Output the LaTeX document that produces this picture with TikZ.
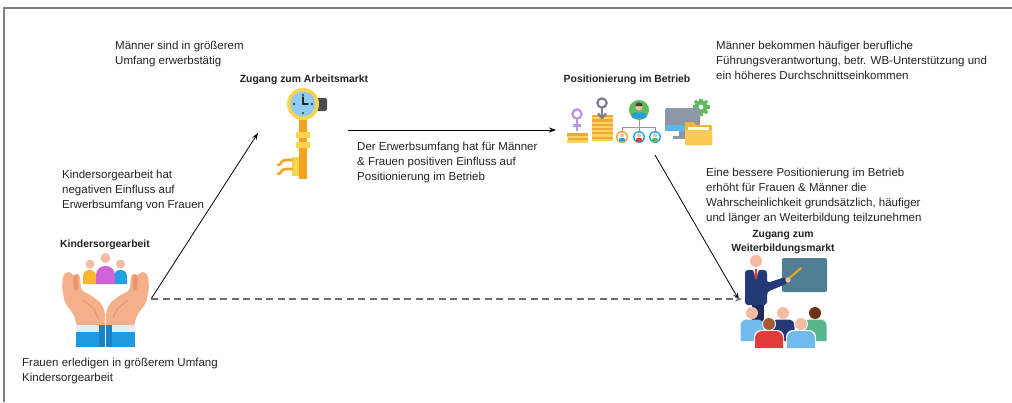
\documentclass[tikz,border=0pt]{standalone}
\usepackage{fontspec}
\setmainfont{Liberation Sans}
\usetikzlibrary{arrows.meta}

\definecolor{txt}{HTML}{222222}
\definecolor{frame}{HTML}{808080}
\definecolor{skin}{HTML}{F4B08A}
\definecolor{skinD}{HTML}{E8956C}
\definecolor{face}{HTML}{F4BCA3}
\definecolor{cuff}{HTML}{1E9BE0}
\definecolor{cuffD}{HTML}{1683CA}
\definecolor{cuffW}{HTML}{E4ECF4}
\definecolor{porange}{HTML}{FDB432}
\definecolor{ppurple}{HTML}{CF62D6}
\definecolor{pblue}{HTML}{1FA2E2}
\definecolor{keyY}{HTML}{FAD24B}
\definecolor{keyO}{HTML}{F6A21F}
\definecolor{dial}{HTML}{8FCBF5}
\definecolor{lav}{HTML}{B995E2}
\definecolor{mars}{HTML}{7E7E90}
\definecolor{coin}{HTML}{FAD35A}
\definecolor{coinD}{HTML}{F2A93B}
\definecolor{gleaf}{HTML}{5DBB5A}
\definecolor{monitor}{HTML}{8C98A3}
\definecolor{screenB}{HTML}{5DB6EA}
\definecolor{folder}{HTML}{F9CB55}
\definecolor{folderD}{HTML}{F3B43A}
\definecolor{board}{HTML}{4F7E93}
\definecolor{suit}{HTML}{243A78}
\definecolor{suitD}{HTML}{1C2A5A}
\definecolor{sblue}{HTML}{72B9EC}
\definecolor{sgreen}{HTML}{58B68C}
\definecolor{sred}{HTML}{E23B3B}
\definecolor{brownH}{HTML}{A85A34}
\definecolor{darkH}{HTML}{6A3217}
\definecolor{linkgray}{HTML}{6E6E6E}

\begin{document}
\begin{tikzpicture}[x=1pt,y=-1pt,
  note/.style={anchor=base west, align=left, inner sep=0pt,
    font=\fontsize{11.5}{15}\selectfont, text=txt},
  title/.style={anchor=base, align=center, inner sep=0pt,
    font=\bfseries\fontsize{10.4}{13.8}\selectfont, text=txt},
  link/.style={-{Stealth[length=7pt,width=5pt]}, line width=0.8pt, draw=black},
  dashlink/.style={-{Stealth[length=7pt,width=5pt]}, line width=1.5pt,
    draw=linkgray, dash pattern=on 7pt off 4.5pt}]
\useasboundingbox (0,0) rectangle (1012,402);

% frame edges
\draw[frame, line width=2pt] (4,402) -- (4,8) -- (1012,8);

% ---------- texts (positions give the baseline of the last line) ----------
\node[note] (t1) at (115,64) {Männer sind in größerem\\Umfang erwerbstätig};
\node[note] (t2) at (62,208) {Kindersorgearbeit hat\\negativen Einfluss auf\\Erwerbsumfang von Frauen};
\node[note] (t3) at (22,381) {Frauen erledigen in größerem Umfang\\Kindersorgearbeit};
\node[note] (t4) at (357,180) {Der Erwerbsumfang hat für Männer\\\& Frauen positiven Einfluss auf\\Positionierung im Betrieb};
\node[note] (t5) at (716,79) {Männer bekommen häufiger berufliche\\Führungsverantwortung, betr. WB-Unterstützung und\\ein höheres Durchschnittseinkommen};
\node[note] (t6) at (706,221) {Eine bessere Positionierung im Betrieb\\erhöht für Frauen \& Männer die\\Wahrscheinlichkeit grundsätzlich, häufiger\\und länger an Weiterbildung teilzunehmen};

\node[title] (h1) at (105,247) {Kindersorgearbeit};
\node[title] (h2) at (304,82) {Zugang zum Arbeitsmarkt};
\node[title] (h3) at (627,82) {Positionierung im Betrieb};
\node[title] (h4) at (783,251) {Zugang zum\\Weiterbildungsmarkt};

% ---------- icon: hands holding a family ----------
\fill[porange] (83,284) -- (83,276) [rounded corners=6pt] -- (83,270) -- (96,270) [sharp corners] -- (96,284) -- cycle;
\fill[face] (90,264) circle (4.5);
\fill[pblue] (114,284) -- (114,276) [rounded corners=6pt] -- (114,270) -- (127,270) [sharp corners] -- (127,284) -- cycle;
\fill[face] (120.5,264) circle (4.5);
\fill[ppurple] (96,284) -- (96,274) [rounded corners=9pt] -- (96,266) -- (115,266) [sharp corners] -- (115,284) -- cycle;
\fill[face] (105.5,258) circle (5);
\foreach \m in {0,1}{
  \begin{scope}[shift={(211*\m,0)}, xscale={1-2*\m}]
    \fill[skin, rounded corners=2pt] (62,288) -- (63,276) -- (66,272) -- (71,272) -- (73,276)
      -- (76,273) -- (80,275) -- (81,290) -- (92,296) -- (101,303) -- (105,312)
      -- (105,326) -- (77,326) -- (74,315) -- (65,303) -- cycle;
    \fill[skinD, rounded corners=1.5pt] (73,277) -- (76,274) -- (78,276) -- (78,291) -- (74,290) -- cycle;
    \draw[skinD, line width=1pt, line cap=round] (83,300) -- (94,309) -- (98,318);
    \fill[cuffW] (76,325) rectangle (105,332);
    \fill[cuff] (76,332) rectangle (105,347);
    \fill[cuffD] (99,325) rectangle (105,347);
  \end{scope}
}

% ---------- icon: key with clock face ----------
\fill[keyO] (299,116) rectangle (307,179);
\fill[keyY] (292,157) rectangle (299,176);
\draw[keyO, line width=2.6pt, line cap=round] (292,160) -- (286,160) .. controls (280,160) and (282,165) .. (278,165);
\draw[keyO, line width=2.6pt, line cap=round] (292,169) -- (286,169) .. controls (280,169) and (282,174) .. (278,174);
\fill[keyY, rounded corners=1pt] (296,132) rectangle (310,138);
\fill[keyY, rounded corners=1pt] (296,142) rectangle (310,148);
\fill[black!70, rounded corners=2pt] (316,98) rectangle (327,111);
\fill[keyY] (303,104) circle (16);
\fill[dial] (303,104) circle (12.5);
\foreach \p in {(303,95),(312,104),(303,113),(294,104)} \fill[black!80] \p circle (1.2);
\draw[black!85, line width=1.5pt, line cap=round] (303,97) -- (303,104) -- (308,104);

% ---------- icon: position in the company ----------
% coins under venus sign
\fill[coinD] (567,133) rectangle (588,136);
\fill[coin] (567,136) rectangle (588,138);
\fill[coinD] (568,138) rectangle (588,140);
\fill[coin] (567,140) rectangle (588,143);
\draw[lav, line width=2.3pt] (577,114) circle (4.6);
\draw[lav, line width=2.3pt] (577,119) -- (577,131) (573,125.5) -- (581,125.5);
% coins under mars-like sign
\foreach \k in {0,...,5}{
  \fill[coinD] (592,115+4.3*\k) rectangle (613,117.2+4.3*\k);
  \fill[coin] (592,117.2+4.3*\k) rectangle (613,119.3+4.3*\k);
}
\draw[mars, line width=2.3pt] (602,103) circle (4.6);
\draw[mars, line width=2.3pt] (602,108) -- (602,117);
\draw[mars, line width=2.3pt, line join=round] (598,113.5) -- (602,118) -- (606,113.5);
% org chart
\draw[black!40, line width=1pt] (639,120) -- (639,131) (622,127) -- (655,127) (622,127) -- (622,131) (655,127) -- (655,131);
\fill[gleaf] (639,110) circle (10);
\fill[face] (639,107) circle (3.6);
\fill[black!75] (635.4,106) arc[start angle=180, end angle=360, radius=3.6];
\fill[pblue] (632,118) -- (632,116) [rounded corners=3pt] -- (632,112.5) -- (646,112.5) [sharp corners] -- (646,118) -- cycle;
\foreach \x/\ring/\shirt in {622/keyO/pblue, 639/pblue/sred, 655/pblue/gleaf}{
  \fill[\ring] (\x,137) circle (6);
  \fill[white] (\x,137) circle (4.6);
  \fill[face] (\x,135.3) circle (2);
  \fill[\shirt] (\x-3.2,141.5) -- (\x-3.2,140) [rounded corners=2pt] -- (\x-3.2,138) -- (\x+3.2,138) [sharp corners] -- (\x+3.2,141.5) -- cycle;
}
% gear, monitor and folder
\foreach \a in {0,45,...,315}
  \fill[gleaf, rotate around={\a:(701,107)}] (699.3,98.5) rectangle (702.7,103);
\fill[gleaf] (701,107) circle (6.3);
\fill[white] (701,107) circle (2.4);
\fill[monitor, rounded corners=1.5pt] (665,108) rectangle (700,131);
\fill[screenB] (665,125) rectangle (700,131);
\fill[monitor] (679,131) rectangle (686,136);
\fill[monitor] (673,136) rectangle (692,138.5);
\fill[folderD, rounded corners=1pt] (685,122) -- (694,122) -- (696,125) -- (712,125) -- (712,145) -- (685,145) -- cycle;
\fill[white] (688,127) rectangle (709,131);
\fill[folder, rounded corners=1pt] (685,130) rectangle (712,145);

% ---------- icon: teacher with students ----------
\fill[board, rounded corners=2pt] (782,258) rectangle (827,292);
\draw[keyO, line width=2pt, line cap=round] (786,281) -- (801,268);
\fill[suitD] (752,298) rectangle (764,326);
\fill[suit, rounded corners=3pt] (745,305) -- (745,270) -- (767,270) -- (767,283)
  -- (785,277) -- (788,283) -- (767,292) -- (767,305) -- cycle;
\fill[face] (788,280) circle (2.6);
\fill[white] (752.5,268) -- (759.5,268) -- (756,279) -- cycle;
\fill[sred] (755,269) -- (757,269) -- (757.5,277) -- (756,279) -- (754.5,277) -- cycle;
\fill[face] (756,261) circle (6);
% back row
\foreach \x/\shirt/\head in {752/sblue/face, 783/suit/face, 815/sgreen/darkH}{
  \fill[\shirt] (\x-11.5,341) -- (\x-11.5,326) [rounded corners=6pt] -- (\x-11.5,319.5) -- (\x+11.5,319.5) [sharp corners] -- (\x+11.5,341) -- cycle;
  \fill[\head] (\x,313) circle (6);
}
% front row
\foreach \x/\shirt/\head in {769/sred/brownH, 801/sblue/face}{
  \fill[white] (\x-15,348) -- (\x-15,337) [rounded corners=7pt] -- (\x-15,330) -- (\x+15,330) [sharp corners] -- (\x+15,348) -- cycle;
  \fill[\shirt] (\x-14,348) -- (\x-14,337) [rounded corners=7pt] -- (\x-14,331) -- (\x+14,331) [sharp corners] -- (\x+14,348) -- cycle;
  \fill[white] (\x,324) circle (7);
  \fill[\head] (\x,324) circle (6);
}

% ---------- connectors ----------
\coordinate (kidOut) at (151,299);
\coordinate (keyIn) at (258,133);
\coordinate (keyOut) at (348,130);
\coordinate (posIn) at (556,130);
\coordinate (posOut) at (655,155);
\coordinate (wbIn) at (739,300);
\coordinate (wbInLow) at (742,299);

\draw[link] (kidOut) -- (keyIn);
\draw[link] (keyOut) -- (posIn);
\draw[link] (posOut) -- (wbIn);
\draw[dashlink] (kidOut) -- (wbInLow);
\end{tikzpicture}
\end{document}
